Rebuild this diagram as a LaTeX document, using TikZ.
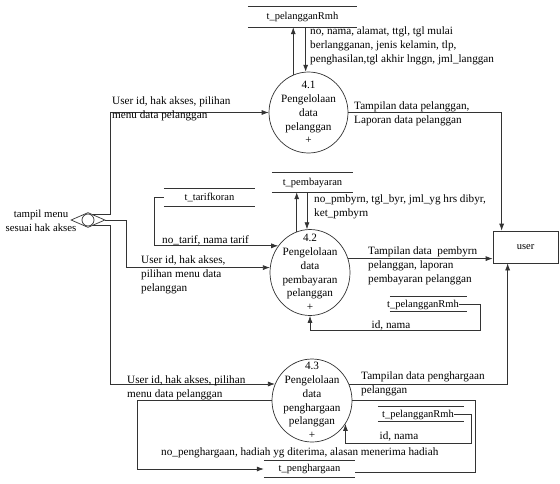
\documentclass[tikz,border=0pt]{standalone}
\usepackage{fontspec}
\setmainfont{Liberation Serif}
\usetikzlibrary{arrows.meta,shapes.geometric,calc}
\newcommand{\dfdfont}{\fontsize{11.2}{13.8}\selectfont}
\newcommand{\dfdsmall}{\fontsize{10.5}{13}\selectfont}
\begin{document}
\begin{tikzpicture}[x=1pt,y=-1pt,
  line/.style={draw=black!80, line width=0.7pt},
  arr/.style={line, -{Latex[length=7pt,width=5pt]}},
  proc/.style={ellipse, line, inner sep=0pt},
  ptext/.style={align=center, font=\dfdfont, inner sep=0pt},
  lbl/.style={align=left, font=\dfdfont, inner sep=0pt, anchor=north west},
  store/.style={rectangle, inner sep=0pt, font=\dfdsmall},
  stext/.style={inner sep=0pt, font=\dfdsmall}]
\useasboundingbox[fill=white] (0,0) rectangle (560,483);

% processes
\node[proc, minimum width=79pt, minimum height=81pt] (p1) at (308.5,112.5) {};
\node[ptext] (t1) at (p1.center) {4.1\\Pengelolaan\\data\\pelanggan\\+};
\node[proc, minimum width=80pt, minimum height=86pt] (p2) at (310,272.5) {};
\node[ptext] (t2) at (p2.center) {4.2\\Pengelolaan\\data\\pembayaran\\pelanggan\\+};
\node[proc, minimum width=80pt, minimum height=83pt] (p3) at (312,400.5) {};
\node[ptext] (t3) at (p3.center) {4.3\\Pengelolaan\\data\\penghargaan\\pelanggan\\+};

% data stores
\node[store, minimum width=109pt, minimum height=20pt] (s1) at (302.5,17) {t\_pelangganRmh};
\node[store, minimum width=91pt, minimum height=17pt] (s2) at (209.5,197.5) {t\_tarifkoran};
\node[store, minimum width=81pt, minimum height=19pt] (s3) at (312.5,182.5) {t\_pembayaran};
\node[store, minimum width=77pt, minimum height=14pt] (s4) at (428.5,304) {};
\node[stext] (s4t) at (423,304.5) {t\_pelangganRmh};
\node[store, minimum width=86pt, minimum height=14pt] (s5) at (421,414) {};
\node[stext] (s5t) at (418,414.5) {t\_pelangganRmh};
\node[store, minimum width=91pt, minimum height=16pt] (s6) at (309.5,469) {t\_penghargaan};
\foreach \s in {s1,s2,s3,s4,s5,s6}
  \draw[line] (\s.north west) -- (\s.north east) (\s.south west) -- (\s.south east);

% external entity
\node[rectangle, line, minimum width=65pt, minimum height=32pt, font=\dfdsmall] (user) at (525.5,247) {user};

% decision
\node[diamond, line, minimum width=34pt, minimum height=15pt, inner sep=0pt] (d) at (88,220) {};
\node[circle, line, minimum size=12pt, inner sep=0pt] (dc) at (d.center) {};
\node[ptext, font=\fontsize{10.8}{13.8}\selectfont] (dt) at (41,221) {tampil menu\\sesuai hak akses};

% bend coordinates
\coordinate (vx) at (110,0);
\coordinate (vm) at (126,0);
\coordinate (vt) at (154,0);
\coordinate (u1) at ([xshift=9pt]user.north west);
\coordinate (u2) at ([xshift=15pt]user.south west);
\coordinate (c4) at (480,330);
\coordinate (c5) at (471,443);
\coordinate (c6) at (137,469);
\coordinate (c7) at (475,472);

% connectors
\draw[arr] (p1.112) -- (p1.112 |- s1.south);
\draw[arr] (p1.94 |- s1.south) -- (p1.94);
\draw[arr] (d.50) -- (d.50 -| vx) |- (p1.west);
\draw[arr] (p1.east) -| (u1);
\draw[arr] (d.east) -- (d.east -| vm) |- (p2.173);
\draw[arr] (s2.west) -- (s2.west -| vt) |- (p2.140);
\draw[arr] (p2.108) -- (p2.108 |- s3.south);
\draw[arr] (p2.94 |- s3.south) -- (p2.94);
\draw[arr] (p2.20) -- (p2.20 -| user.west);
\draw[arr] (s4t.east) -| (c4) -| (p2.south);
\draw[arr] (d.-50) -- (d.-50 -| vx) |- (p3.156);
\draw[arr] (p3.24) -| (u2);
\draw[arr] (s5t.east) -| (c5) -| (p3.-35);
\draw[arr] (p3.west) -| (c6) -- (s6.west);
\draw[line] (p3.east) -| (c7) -- (c7 -| s6.east);

% labels
\node[lbl] (l1) at (310,27) {no, nama, alamat, ttgl, tgl mulai\\berlangganan, jenis kelamin, tlp,\\penghasilan,tgl akhir lnggn, jml\_langgan};
\node[lbl] (l2) at (112,97) {User id, hak akses, pilihan\\menu data pelanggan};
\node[lbl] (l3) at (354,102) {Tampilan data pelanggan,\\Laporan data pelanggan};
\node[lbl] (l4) at (162,235) {no\_tarif, nama tarif};
\node[lbl] (l5) at (314,195) {no\_pmbyrn, tgl\_byr, jml\_yg hrs dibyr,\\ket\_pmbyrn};
\node[lbl] (l6) at (141,256) {User id, hak akses,\\pilihan menu data\\pelanggan};
\node[lbl] (l7) at (368,247) {Tampilan data~ pembyrn\\pelanggan, laporan\\pembayaran pelanggan};
\node[ptext] (l8) at (391,325) {id, nama};
\node[lbl] (l9) at (127,376) {User id, hak akses, pilihan\\menu data pelanggan};
\node[lbl] (l10) at (361,372) {Tampilan data penghargaan\\pelanggan};
\node[ptext] (l11) at (399,436) {id, nama};
\node[lbl] (l12) at (161,448) {no\_penghargaan, hadiah yg diterima, alasan menerima hadiah};
\end{tikzpicture}
\end{document}
